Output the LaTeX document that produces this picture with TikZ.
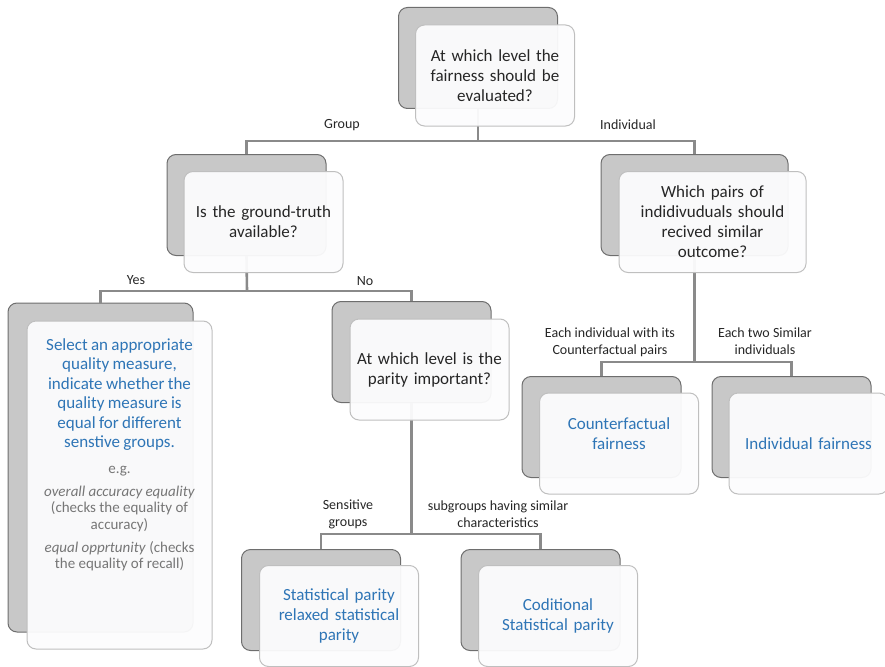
\documentclass[tikz,border=0pt]{standalone}
\usepackage{fontspec}
\setmainfont{Carlito}
\definecolor{qcol}{HTML}{262626}
\definecolor{bcol}{HTML}{2E75B6}
\definecolor{gcol}{HTML}{767676}
\definecolor{lcol}{HTML}{8A8A8A}
\definecolor{backfill}{HTML}{C8C8C8}
\definecolor{backdraw}{HTML}{6E6E6E}
\definecolor{frontdraw}{HTML}{BFBFBF}
\definecolor{frontfill}{HTML}{FCFCFD}
\tikzset{
  backbox/.style={draw=backdraw, fill=backfill, line width=1pt, rounded corners=9pt,
    minimum width=159pt, minimum height=101pt, inner sep=0pt},
  frontbox/.style={draw=frontdraw, fill=frontfill, fill opacity=0.95, text opacity=1,
    line width=1pt, rounded corners=9pt, minimum width=159pt, minimum height=101pt,
    inner sep=2pt, text width=150pt, align=center, text=qcol,
    font=\fontsize{17}{20}\selectfont},
  leaf/.style={frontbox, text=bcol, font=\fontsize{17}{20}\selectfont},
  conn/.style={draw=lcol, line width=2.6pt},
  lbl/.style={text=qcol, align=center, font=\fontsize{14}{17}\selectfont, inner sep=0pt}
}
\begin{document}
\begin{tikzpicture}[x=1pt,y=-1pt]
\useasboundingbox (0,0) rectangle (885,666);

% junction coordinates
\coordinate (j1) at (478,141);
\coordinate (j2) at (247,291);
\coordinate (j3) at (411.5,534);
\coordinate (j4) at (694.5,362);

% back boxes
\node[backbox] (topB) at (478,58) {};
\node[backbox] (grpB) at (246.5,205) {};
\node[backbox, minimum width=187pt] (indB) at (694.5,205) {};
\node[backbox, minimum width=185pt, minimum height=329pt] (yesB) at (100.5,467.5) {};
\node[backbox] (noB) at (411.5,352) {};
\node[backbox] (statB) at (321,600) {};
\node[backbox] (condB) at (540.5,600) {};
\node[backbox] (cfB) at (601.5,427) {};
\node[backbox] (indfB) at (791.5,427) {};

% connectors
\draw[conn] (topB.south) -- (j1);
\draw[conn] (grpB.north) |- (j1) -| (indB.north);
\draw[conn] (grpB.south) -- (j2);
\draw[conn] (yesB.north) |- (j2) -| (noB.north);
\draw[conn] (noB.south) -- (j3);
\draw[conn] (statB.north) |- (j3) -| (condB.north);
\draw[conn] (indB.south) -- (j4);
\draw[conn] (cfB.north) |- (j4) -| (indfB.north);

% front boxes
\node[frontbox] (top) at (495,75.5) {At which level the\\fairness should be\\evaluated?};
\node[frontbox] (grp) at (263.5,222) {Is the ground-truth\\available?};
\node[frontbox, minimum width=187pt, text width=170pt] (ind) at (712.5,222) {Which pairs of\\indidivuduals should\\recived similar\\outcome?};
\node[frontbox, minimum width=185pt, minimum height=328pt] (yes) at (119.5,485) {};
\node[frontbox] (no) at (429.5,369.5) {At which level is the\\parity important?};
\node[leaf] (stat) at (339,616) {Statistical parity\\relaxed statistical\\parity};
\node[leaf] (cond) at (558,616) {Coditional\\Statistical parity};
\node[leaf] (cf) at (619,443.5) {Counterfactual\\fairness\\\mbox{}};
\node[leaf] (indf) at (808.5,443.5) {Individual fairness};

\node[anchor=north, align=center, inner sep=0pt, text width=180pt] (yesText) at (119.5,338)
 {{\color{bcol}\fontsize{17}{19.5}\selectfont Select an appropriate\\quality measure,\\indicate whether the\\quality measure is\\equal for different\\senstive groups.\par}
  \vspace{9pt}
  {\color{gcol}\fontsize{15}{16.5}\selectfont e.g.\par\vspace{6.5pt}
  \textit{overall accuracy equality}\\(checks the equality of\\accuracy)\par\vspace{6.5pt}
  \textit{equal opprtunity} (checks\\the equality of recall)\par}};

% labels
\node[lbl] (lGroup) at (342,125) {Group};
\node[lbl] (lInd) at (628,125) {Individual};
\node[lbl] (lYes) at (136,280) {Yes};
\node[lbl] (lNo) at (365,281) {No};
\node[lbl] (lSens) at (348,514) {Sensitive\\groups};
\node[lbl] (lSub) at (498,514) {subgroups having similar\\characteristics};
\node[lbl] (lEach) at (610,342) {Each individual with its\\Counterfactual pairs};
\node[lbl] (lTwo) at (765,341) {Each two Similar\\individuals};
\end{tikzpicture}
\end{document}
